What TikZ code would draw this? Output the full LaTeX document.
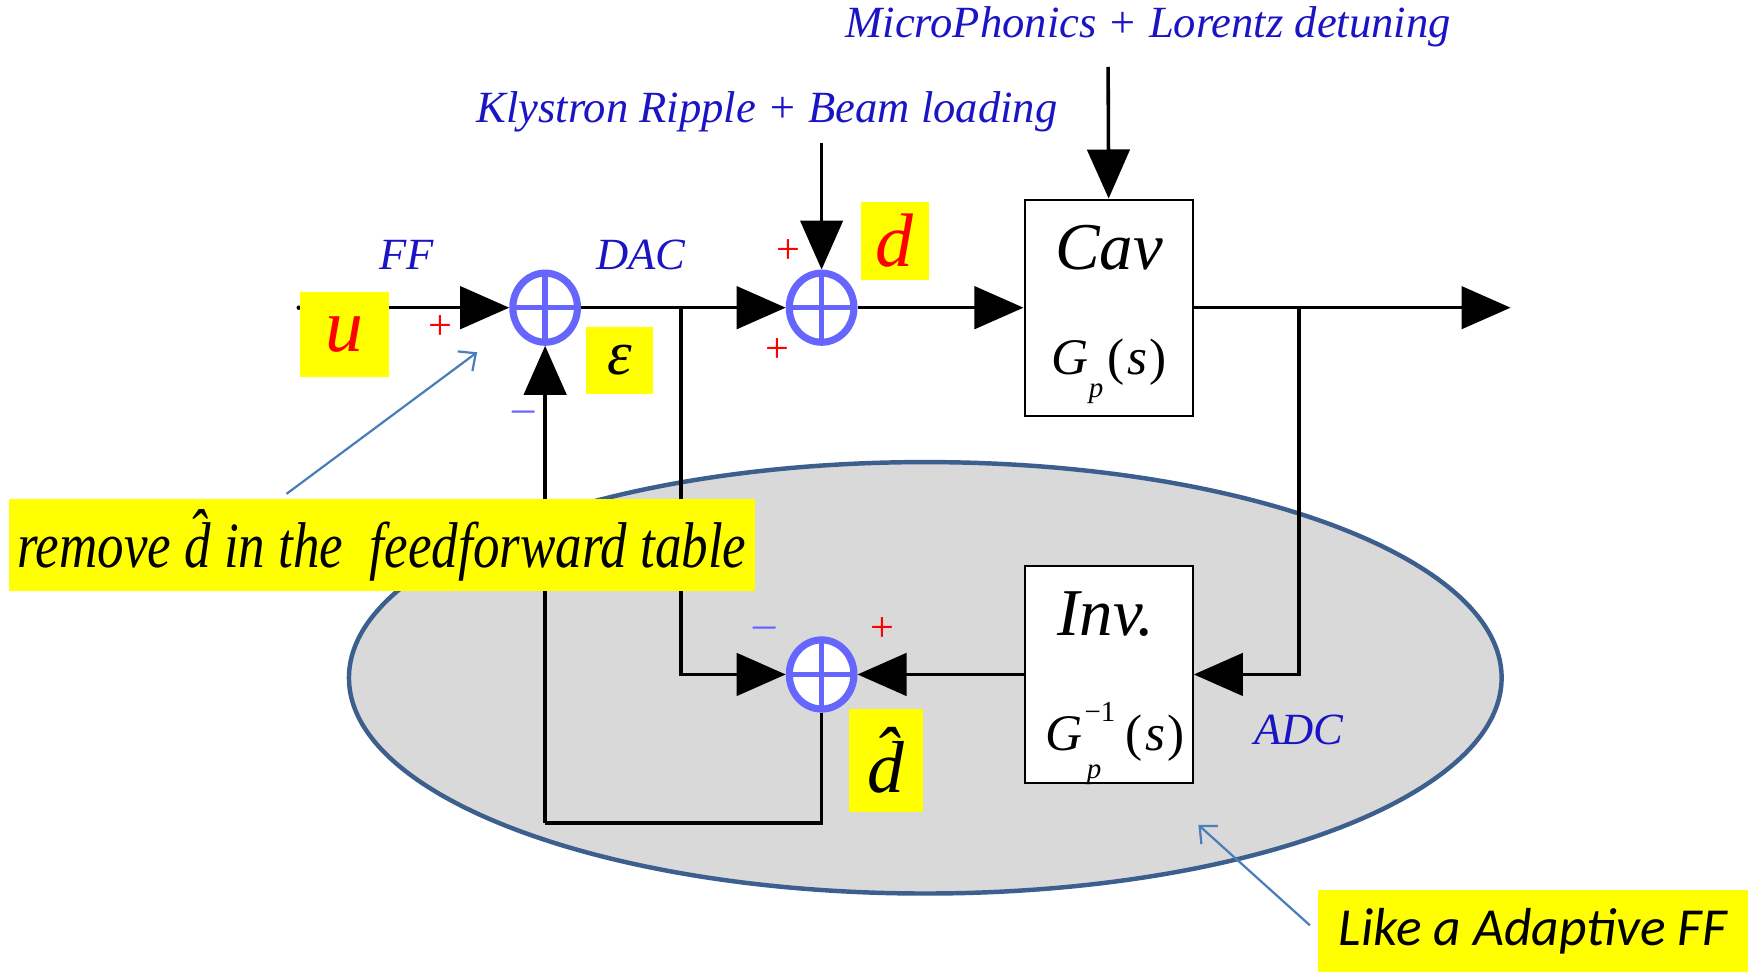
\documentclass[tikz,border=0pt]{standalone}
\usepackage{fontspec}
\setmainfont{Liberation Serif}
\newfontfamily\calib{Carlito}
\usetikzlibrary{arrows.meta,shapes.geometric}
\definecolor{lblue}{HTML}{1A14C4}
\definecolor{sumblue}{HTML}{6666FF}
\definecolor{ellb}{HTML}{3C5F8E}
\definecolor{arrb}{HTML}{4A7EBB}
\definecolor{ellgray}{HTML}{D9D9D9}
\definecolor{hy}{HTML}{FFFF00}
\tikzset{
 sig/.style={line width=1.6pt, -{Triangle[length=22pt,width=19pt]}},
 wire/.style={line width=1.6pt},
 sumnode/.style={ellipse, draw=sumblue, line width=3.2pt, fill=white, minimum width=29pt, minimum height=31pt, inner sep=0pt,
   path picture={\draw[sumblue,line width=2.4pt] (path picture bounding box.north) -- (path picture bounding box.south)
                 (path picture bounding box.west) -- (path picture bounding box.east);}},
 blk/.style={draw, line width=0.9pt, fill=white, minimum width=75.5pt, minimum height=97pt, inner sep=0pt},
 lbl/.style={text=lblue, font=\fontsize{20}{24}\selectfont\itshape, inner sep=0pt},
 hl/.style={fill=hy, inner sep=0pt},
 rplus/.style={text=red, font=\fontsize{19}{19}\selectfont, inner sep=0pt},
 bminus/.style={text=sumblue, font=\fontsize{20}{20}\selectfont, inner sep=0pt},
 note/.style={draw=arrb, line width=1pt, -{Straight Barb[length=6pt,width=11pt]}},
 btxt/.style={inner sep=0pt},
}
\begin{document}
\begin{tikzpicture}[x=0.5pt,y=-0.5pt]
\useasboundingbox (0,0) rectangle (1568,872);
% grey ellipse
\node[ellipse, draw=ellb, line width=2pt, fill=ellgray, minimum width=517pt, minimum height=193.5pt, inner sep=0pt] (ell) at (830,608) {};
% blocks and sums
\coordinate (in) at (268,276);
\node[sumnode] (s1) at (489,276) {};
\coordinate (jd) at (611,276);
\node[sumnode] (s2) at (737,276) {};
\node[blk] (cav) at (994.5,276) {};
\coordinate (jo) at (1165,276);
\coordinate (out) at (1355,276);
\node[blk] (inv) at (994.5,605) {};
\node[sumnode] (s3) at (737,605) {};
\coordinate (fb) at (489,738);
\coordinate (kly) at (737,128);
\coordinate (mic) at (994,60);
% connectors
\draw[sig] (in) -- (s1.west);
\fill (in) circle (1pt);
\draw[sig] (s1.east) -- (s2.west);
\draw[sig] (s2.east) -- (cav.west);
\draw[sig] (cav.east) -- (out);
\draw[sig] (kly) -- (s2.north);
\draw[sig] (mic) -- (cav.north);
\draw[sig] (jd) |- (s3.west);
\draw[sig] (inv.west) -- (s3.east);
\draw[sig] (jo) |- (inv.east);
\draw[wire] (s3.south) |- (fb);
\draw[sig] (fb) -- (s1.south);
% block texts
\node[btxt] (cavt) at (995,222) {\fontsize{30}{30}\selectfont\itshape Cav};
\node[btxt] (cavg) at (995,333) {\fontsize{23}{23}\selectfont\textit{G}\raisebox{-0.45em}{\fontsize{13}{13}\selectfont\textit{p}}\kern2pt(\kern1pt\textit{s}\kern1pt)};
\node[btxt] (invt) at (992,551) {\fontsize{30}{30}\selectfont\itshape Inv.};
\node[btxt] (invg) at (1000,667) {\fontsize{23}{23}\selectfont\textit{G}\rlap{\raisebox{0.55em}{\fontsize{13}{13}\selectfont\kern1pt −1}}\raisebox{-0.55em}{\fontsize{13}{13}\selectfont\kern2pt\textit{p}}\kern11pt(\kern1pt\textit{s}\kern1pt)};
% blue labels
\node[lbl] (ff) at (365,229) {FF};
\node[lbl] (dac) at (575,229) {DAC};
\node[lbl] (adc) at (1165,655) {ADC};
\node[lbl] (klyt) at (688,100) {Klystron Ripple + Beam loading};
\node[lbl] (mict) at (1030,24) {MicroPhonics + Lorentz detuning};
% signs
\node[rplus] (p1) at (395,294) {+};
\node[rplus] (p2) at (707,226) {+};
\node[rplus] (p3) at (697,314) {+};
\node[rplus] (p4) at (792,565) {+};
\node[bminus] (m1) at (470,374) {–};
\node[bminus] (m2) at (686,568) {–};
% yellow labels
\node[hl, minimum width=40pt, minimum height=38pt] (ubox) at (309,300) {\textcolor{red}{\fontsize{34}{34}\selectfont\itshape u}};
\node[hl, minimum width=30pt, minimum height=30pt] (ebox) at (556,323) {\fontsize{28}{28}\selectfont\itshape ε};
\node[hl, minimum width=30.5pt, minimum height=35pt] (dbox) at (802.5,216) {\textcolor{red}{\fontsize{34}{34}\selectfont\itshape d}};
\node[hl, minimum width=33pt, minimum height=46pt] (dhbox) at (795,682) {\fontsize{33}{33}\selectfont\itshape \^{d}};
% notes
\node[hl, minimum width=334.5pt, minimum height=41pt] (rm) at (342.5,489) {\fontsize{29}{29}\selectfont\itshape\scalebox{0.82}[1]{remove \^{d} in the\ \ feedforward table}};
\coordinate (rmt) at (257,443);
\coordinate (rmh) at (428,316);
\draw[note] (rmt) -- (rmh);
\node[hl, minimum width=193pt, minimum height=37pt] (like) at (1375,835) {\calib\itshape\fontsize{24}{24}\selectfont Like a Adaptive FF};
\coordinate (lkt) at (1175,830);
\coordinate (lkh) at (1075,740);
\draw[note] (lkt) -- (lkh);
\end{tikzpicture}
\end{document}
